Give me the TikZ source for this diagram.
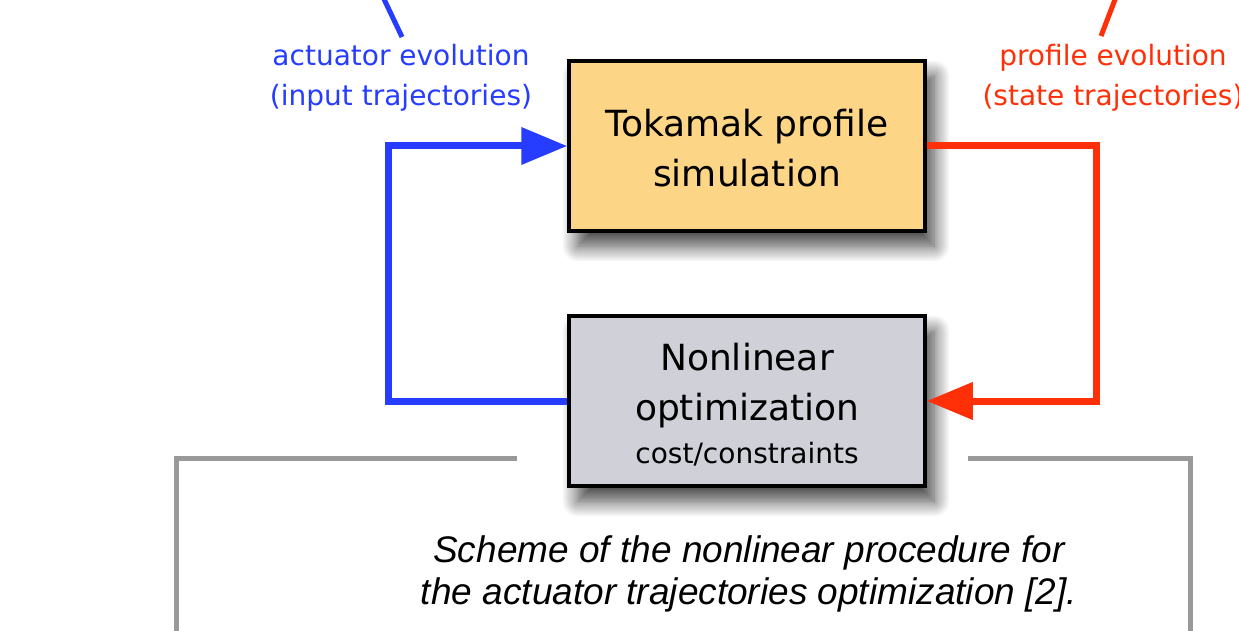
\documentclass[tikz,border=0pt]{standalone}
\usepackage{fontspec}
\setmainfont{DejaVu Sans}
\newfontfamily\capfont{Liberation Sans}
\usetikzlibrary{arrows.meta,shadows.blur,calc}
\definecolor{boxorange}{RGB}{253,213,135}
\definecolor{boxgray}{RGB}{207,208,216}
\definecolor{lineblue}{RGB}{38,60,255}
\definecolor{linered}{RGB}{255,48,8}
\definecolor{framegray}{RGB}{153,153,153}
\tikzset{
  block/.style={draw=black, line width=3.5pt, minimum width=356pt, minimum height=170pt,
    inner sep=0pt, align=center,
    blur shadow={shadow xshift=9pt, shadow yshift=-15pt, shadow opacity=75, shadow blur radius=16pt, shadow blur steps=16}},
  flow/.style={line width=7pt, line join=miter, -{Triangle[length=46pt,width=36pt]}},
  pointer/.style={line width=5pt},
  frame/.style={framegray, line width=5pt, line join=miter},
  lab/.style={font=\fontsize{28}{40}\selectfont, align=center, inner sep=0pt}
}
\begin{document}
\begin{tikzpicture}[x=1pt,y=-1pt]
\useasboundingbox (0,0) rectangle (1239,631);
% frame
\coordinate (fl1) at (517,458);
\coordinate (fl2) at (176,458);
\coordinate (fl3) at (176,640);
\coordinate (fr1) at (968,458);
\coordinate (fr2) at (1190,458);
\coordinate (fr3) at (1190,640);
\draw[frame] (fl1) -- (fl2) -- (fl3);
\draw[frame] (fr1) -- (fr2) -- (fr3);
% boxes
\node[block, fill=boxorange, font=\fontsize{36}{50}\selectfont] (sim) at (747,146) {\rule{0pt}{31.5pt}Tokamak profile\\simulation};
\node[block, fill=boxgray, font=\fontsize{36}{50}\selectfont] (opt) at (747,401)
  {\rule{0pt}{35pt}Nonlinear\\optimization\\[-7pt]{\fontsize{28}{34}\selectfont cost/constraints}};
% flows
\draw[flow, lineblue] (opt.west) -- ++(-179,0) |- (sim.west);
\draw[flow, linered] (sim.east) -- ++(170,0) |- (opt.east);
% labels
\node[lab, text=lineblue] (actlab) at (401,78) {actuator evolution\\(input trajectories)};
\node[lab, text=linered] (proflab) at (1113,78) {profile evolution\\(state trajectories)};
\coordinate (ba) at (383,-3);
\coordinate (bb) at (402,37);
\coordinate (ra) at (1116,-3);
\coordinate (rb) at (1101,36);
\draw[pointer, lineblue] (ba) -- (bb);
\draw[pointer, linered] (ra) -- (rb);
% caption
\node[font=\capfont\itshape\fontsize{37}{42}\selectfont, align=center, inner sep=0pt] (cap) at (749,574)
  {Scheme of the nonlinear procedure for\\the actuator trajectories optimization [2].};
\end{tikzpicture}
\end{document}
